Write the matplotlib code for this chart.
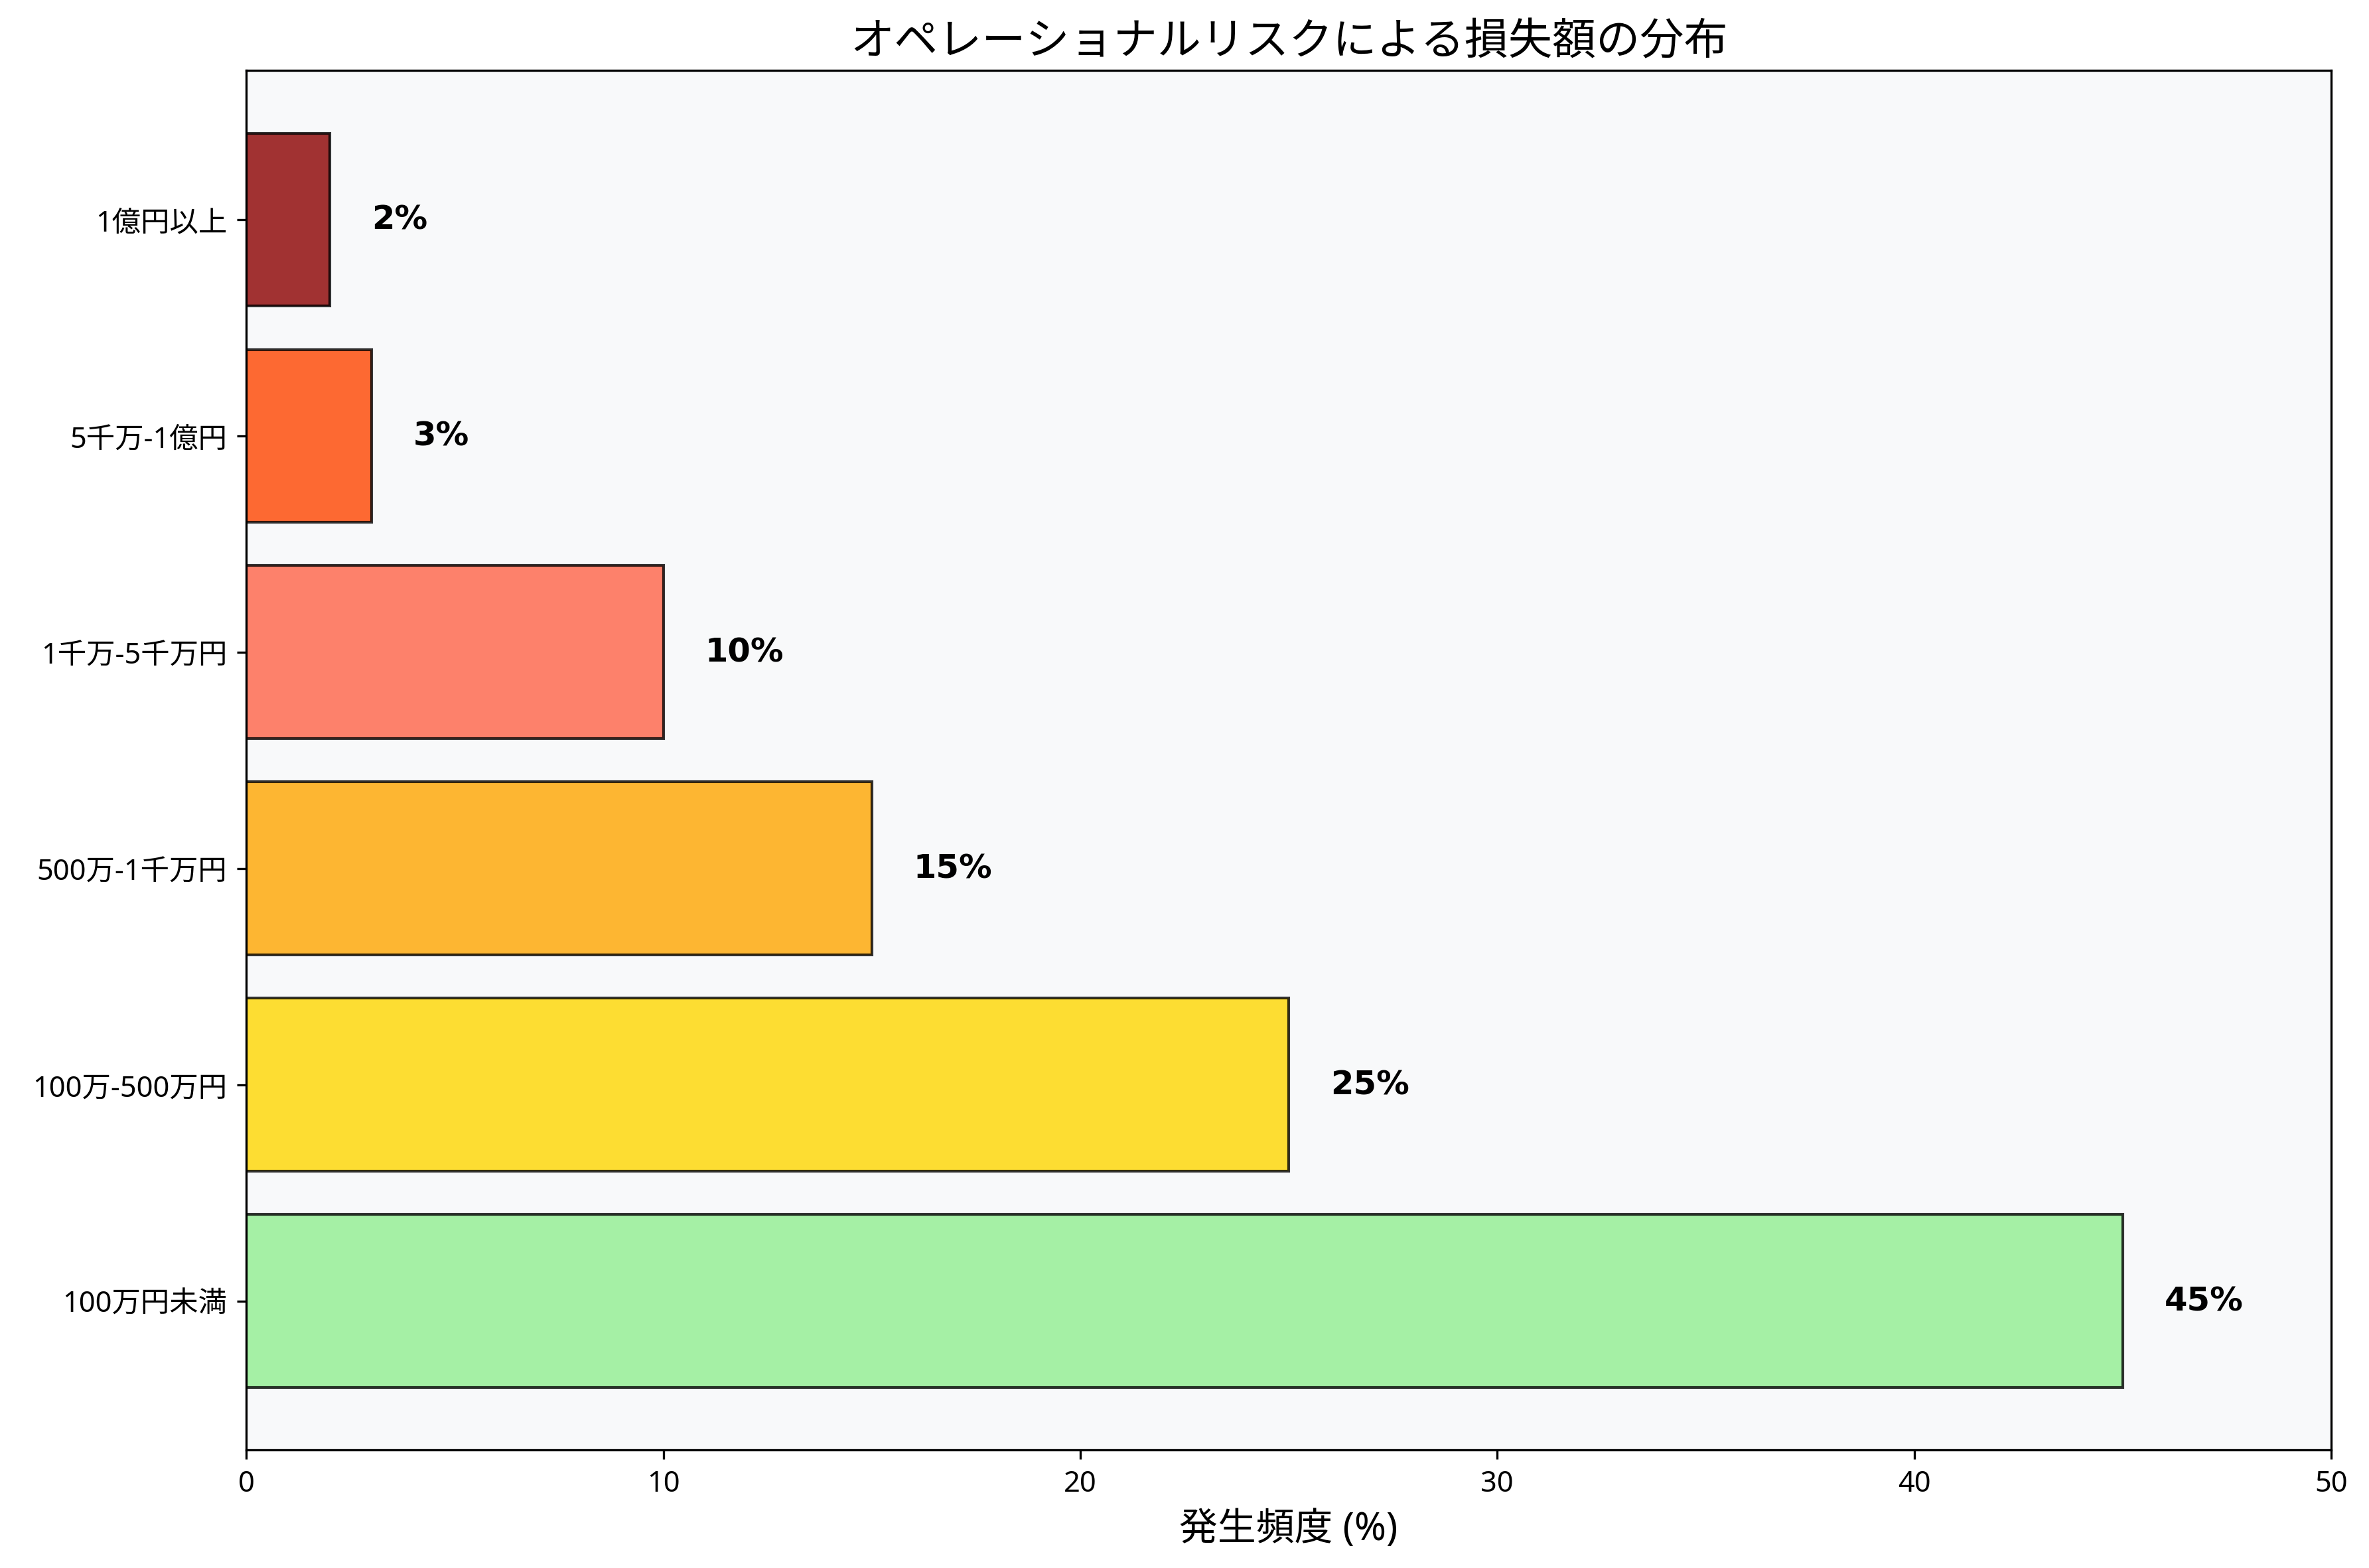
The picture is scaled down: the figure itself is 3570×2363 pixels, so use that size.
import matplotlib.pyplot as plt

plt.rcParams['font.family'] = ['Noto Sans', 'Noto Sans CJK JP', 'DejaVu Sans']

categories = ['100万円未満', '100万-500万円', '500万-1千万円', '1千万-5千万円', '5千万-1億円', '1億円以上']
frequency = [45, 25, 15, 10, 3, 2]
colors = ['lightgreen', 'gold', 'orange', 'tomato', 'orangered', 'darkred']

fig, ax = plt.subplots(figsize=(12, 7.946), dpi=297.5)
ax.set_facecolor('#f8f9fa')

bars = ax.barh(categories, frequency, color=colors, edgecolor='black',
               linewidth=1, alpha=0.8)

# value labels to the right of each bar
for bar, val in zip(bars, frequency):
    ax.text(bar.get_width() + 1, bar.get_y() + bar.get_height() / 2,
            f'{val}%', va='center', ha='left', fontsize=12,
            fontweight='bold', family='DejaVu Sans')

ax.set_xlim(0, 50)
ax.set_xlabel('発生頻度 (%)', fontsize=14)
ax.set_title('オペレーショナルリスクによる損失額の分布', fontsize=16)
ax.tick_params(axis='both', labelsize=10.5)

fig.subplots_adjust(left=0.104, right=0.984, top=0.9547, bottom=0.0751)
plt.savefig('out.png')
